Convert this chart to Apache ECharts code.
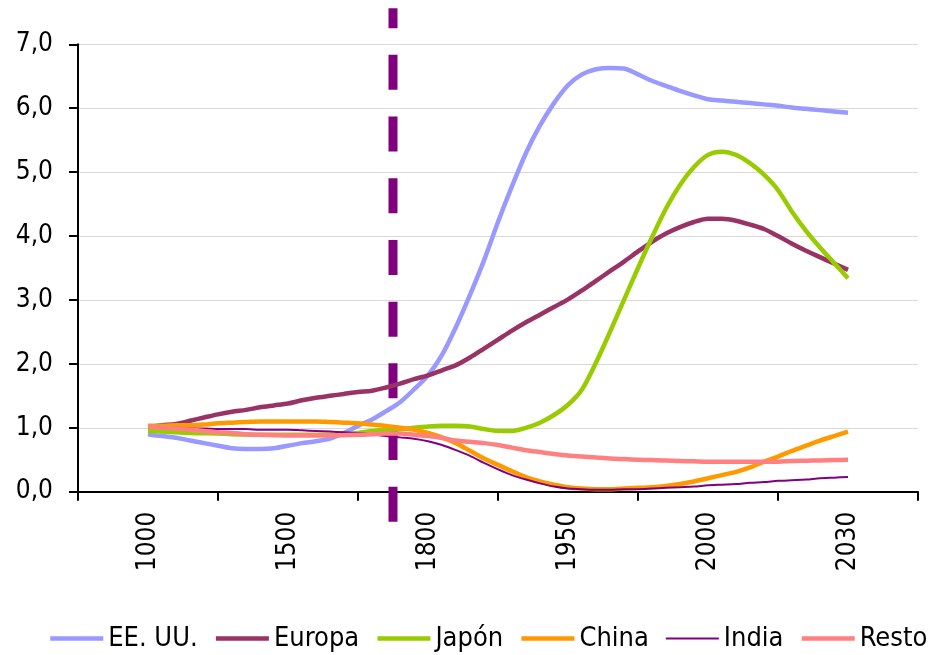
<!DOCTYPE html>
<html>
<head>
<meta charset="utf-8">
<script src="https://cdn.jsdelivr.net/npm/echarts@6/dist/echarts.min.js"></script>
<style>
  html, body { margin: 0; padding: 0; background: #fff; }
  #chart { width: 935px; height: 655px; }
</style>
</head>
<body>
<div id="chart"></div>
<script>
// x positions in axis units (0 = 1000, 1 = 1500, ... 5 = 2030)
var xs = [0.0, 0.1, 0.2, 0.3, 0.4, 0.5, 0.6, 0.7, 0.8, 0.9,
          1.0, 1.1, 1.2, 1.3, 1.4, 1.5, 1.6, 1.7, 1.8, 1.9,
          2.0, 2.1, 2.2, 2.3, 2.4, 2.5, 2.6, 2.7, 2.8, 2.9,
          3.0, 3.1, 3.2, 3.3, 3.4, 3.5, 3.6, 3.7, 3.8, 3.9,
          4.0, 4.1, 4.2, 4.3, 4.4, 4.5, 4.6, 4.7, 4.8, 4.9,
          5.0];
var xLabels = ['1000', '1500', '1800', '1950', '2000', '2030'];
var xLabelPos = [0, 1, 2, 3, 4, 5];
var xTickPos = [-0.5, 0.5, 1.5, 2.5, 3.5, 4.5, 5.5];

var usa = [0.90, 0.87, 0.845, 0.80, 0.76, 0.72, 0.68, 0.67, 0.67, 0.68,
           0.72, 0.76, 0.79, 0.83, 0.92, 1.03, 1.13, 1.26, 1.40, 1.60,
           1.82, 2.14, 2.58, 3.08, 3.62, 4.22, 4.78, 5.30, 5.73, 6.08,
           6.36, 6.53, 6.61, 6.63, 6.62, 6.53, 6.43, 6.35, 6.27, 6.20,
           6.14, 6.12, 6.10, 6.08, 6.06, 6.04, 6.01, 5.99, 5.97, 5.95,
           5.93];
var europa = [1.01, 1.04, 1.06, 1.11, 1.16, 1.21, 1.25, 1.28, 1.32, 1.35,
              1.38, 1.43, 1.47, 1.50, 1.53, 1.56, 1.58, 1.63, 1.69, 1.76,
              1.82, 1.90, 1.98, 2.10, 2.24, 2.38, 2.52, 2.65, 2.77, 2.89,
              3.01, 3.15, 3.30, 3.45, 3.60, 3.76, 3.91, 4.04, 4.14, 4.22,
              4.27, 4.27, 4.24, 4.18, 4.11, 4.00, 3.88, 3.77, 3.67, 3.57,
              3.47];
var japon = [0.95, 0.94, 0.93, 0.92, 0.915, 0.91, 0.90, 0.895, 0.89, 0.89,
             0.89, 0.89, 0.89, 0.89, 0.90, 0.92, 0.95, 0.97, 0.98, 1.00,
             1.02, 1.03, 1.03, 1.02, 0.98, 0.95, 0.95, 1.00, 1.08, 1.20,
             1.36, 1.60, 2.02, 2.50, 3.00, 3.50, 3.98, 4.43, 4.80, 5.08,
             5.27, 5.32, 5.27, 5.14, 4.96, 4.72, 4.38, 4.08, 3.82, 3.58,
             3.34];
var china = [1.03, 1.03, 1.04, 1.04, 1.05, 1.07, 1.08, 1.09, 1.10, 1.10,
             1.10, 1.10, 1.10, 1.09, 1.08, 1.07, 1.05, 1.03, 1.00, 0.97,
             0.92, 0.85, 0.76, 0.64, 0.52, 0.42, 0.32, 0.23, 0.16, 0.11,
             0.07, 0.05, 0.04, 0.04, 0.05, 0.06, 0.07, 0.09, 0.12, 0.16,
             0.21, 0.26, 0.31, 0.38, 0.47, 0.55, 0.64, 0.72, 0.80, 0.87,
             0.94];
var india = [1.01, 1.00, 1.00, 0.99, 0.99, 0.98, 0.98, 0.98, 0.97, 0.97,
             0.97, 0.96, 0.95, 0.94, 0.93, 0.92, 0.90, 0.87, 0.85, 0.83,
             0.79, 0.73, 0.65, 0.56, 0.45, 0.35, 0.26, 0.19, 0.13, 0.08,
             0.05, 0.04, 0.03, 0.03, 0.04, 0.04, 0.05, 0.06, 0.07, 0.08,
             0.10, 0.11, 0.12, 0.14, 0.15, 0.17, 0.18, 0.19, 0.21, 0.22,
             0.23];
var resto = [1.02, 1.00, 0.99, 0.97, 0.95, 0.93, 0.92, 0.90, 0.89, 0.885,
             0.88, 0.88, 0.88, 0.88, 0.885, 0.89, 0.90, 0.91, 0.91, 0.89,
             0.87, 0.84, 0.80, 0.78, 0.76, 0.73, 0.69, 0.65, 0.62, 0.59,
             0.565, 0.55, 0.535, 0.52, 0.51, 0.50, 0.495, 0.49, 0.48, 0.475,
             0.47, 0.47, 0.47, 0.47, 0.47, 0.47, 0.48, 0.485, 0.49, 0.495,
             0.50];

// vertical dashed marker (position on x axis, span on y axis)
var cutPos = 1.75;
var cutSpan = [-0.47, 7.565];

var FONT = "'DejaVu Sans Condensed', 'DejaVu Sans', sans-serif";

var seriesDefs = [
    { name: 'EE. UU.', vals: usa, color: '#9999FF', width: 4.5 },
    { name: 'Europa', vals: europa, color: '#993366', width: 4.5 },
    { name: 'Japón', vals: japon, color: '#99CC00', width: 4.5 },
    { name: 'China', vals: china, color: '#FF9900', width: 4.5 },
    { name: 'India', vals: india, color: '#800080', width: 2 },
    { name: 'Resto', vals: resto, color: '#FF8080', width: 4.5 }
];

function pairs(vals) {
    return xs.map(function (x, i) { return [x, vals[i]]; });
}

var lines = seriesDefs.map(function (d) {
    return {
        name: d.name,
        type: 'line',
        data: pairs(d.vals),
        symbol: 'none',
        smooth: 0.3,
        lineStyle: { color: d.color, width: d.width },
        itemStyle: { color: d.color },
        animation: false
    };
});

var chart = echarts.init(document.getElementById('chart'));

var option = {
    backgroundColor: '#ffffff',
    animation: false,
    grid: { left: 78, right: 17, top: 44.3, bottom: 163.3 },
    legend: {
        data: seriesDefs.map(function (d) {
            return { name: d.name, lineStyle: { width: d.width, cap: 'butt' } };
        }),
        left: 48,
        top: 625,
        width: 887,
        padding: 0,
        itemWidth: 53,
        itemHeight: 14,
        itemGap: 16,
        itemStyle: { opacity: 0 },
        textStyle: { fontFamily: FONT, fontSize: 27, color: '#000' }
    },
    xAxis: {
        type: 'value',
        min: -0.5,
        max: 5.5,
        axisLine: { onZero: false, lineStyle: { color: '#000', width: 2 } },
        axisTick: { show: true, length: 9, customValues: xTickPos, lineStyle: { color: '#000', width: 2 } },
        axisLabel: {
            customValues: xLabelPos,
            rotate: 90,
            margin: 20,
            fontFamily: FONT,
            fontSize: 26,
            color: '#000',
            formatter: function (v) { return xLabels[Math.round(v)]; }
        },
        splitLine: { show: false }
    },
    yAxis: {
        type: 'value',
        min: 0,
        max: 7,
        interval: 1,
        axisLine: { show: true, onZero: false, lineStyle: { color: '#000', width: 2 } },
        axisTick: { show: true, length: 9, lineStyle: { color: '#000', width: 2 } },
        axisLabel: {
            margin: 25,
            fontFamily: FONT,
            fontSize: 26,
            color: '#000',
            formatter: function (v) { return v.toFixed(1).replace('.', ','); }
        },
        splitLine: { show: true, lineStyle: { color: '#d9d9d9', width: 1 } }
    },
    series: lines.concat([
        {
            type: 'custom',
            coordinateSystem: 'cartesian2d',
            clip: false,
            silent: true,
            data: [[cutPos, cutSpan[0], cutSpan[1]]],
            encode: { x: 0, y: [1, 2] },
            renderItem: function (params, api) {
                var p0 = api.coord([api.value(0), api.value(1)]);
                var p1 = api.coord([api.value(0), api.value(2)]);
                return {
                    type: 'line',
                    shape: { x1: p0[0], y1: p0[1], x2: p1[0], y2: p1[1] },
                    style: { stroke: '#800080', lineWidth: 9, lineDash: [35, 26.7] }
                };
            }
        }
    ])
};
chart.setOption(option);
</script>
</body>
</html>
